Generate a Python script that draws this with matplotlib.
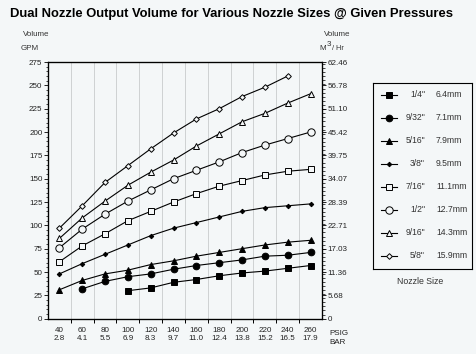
import numpy as np
import matplotlib
matplotlib.use("Agg")
import matplotlib.pyplot as plt
from matplotlib.ticker import MultipleLocator, FixedLocator

plt.rcParams['font.family'] = ['Liberation Sans', 'DejaVu Sans']

nan = np.nan
psig = [40, 60, 80, 100, 120, 140, 160, 180, 200, 220, 240, 260]
bar = ['2.8', '4.1', '5.5', '6.9', '8.3', '9.7', '11.0', '12.4', '13.8', '15.2', '16.5', '17.9']

# GPM per nozzle size
q_1_4 = [nan, nan, nan, 30, 33, 39, 42, 46, 49, 51, 54, 57]
q_9_32 = [nan, 32, 40, 45, 48, 53, 57, 60, 63, 67, 68, 71]
q_5_16 = [31, 41, 48, 52, 58, 62, 67, 71, 75, 79, 82, 84]
q_3_8 = [48, 59, 69, 79, 89, 97, 103, 109, 115, 119, 121, 123]
q_7_16 = [61, 78, 91, 105, 115, 125, 134, 142, 148, 154, 158, 160]
q_1_2 = [76, 96, 112, 126, 138, 150, 159, 168, 178, 186, 193, 200]
q_9_16 = [86, 108, 126, 143, 157, 170, 185, 198, 211, 220, 231, 241]
q_5_8 = [97, 121, 146, 164, 182, 199, 214, 225, 238, 248, 260, nan]

sizes_in = ['1/4"', '9/32"', '5/16"', '3/8"', '7/16"', '1/2"', '9/16"', '5/8"']
sizes_mm = ['6.4mm', '7.1mm', '7.9mm', '9.5mm', '11.1mm', '12.7mm', '14.3mm', '15.9mm']
gpm_ticks = [0, 25, 50, 75, 100, 125, 150, 175, 200, 225, 250, 275]
m3_labels = ['0', '5.68', '11.36', '17.03', '22.71', '28.39', '34.07', '39.75',
             '45.42', '51.10', '56.78', '62.46']

series = [q_1_4, q_9_32, q_5_16, q_3_8, q_7_16, q_1_2, q_9_16, q_5_8]
bg = '#f4f7f8'
styles = [('s', 4.3, 'k'), ('o', 4.8, 'k'), ('^', 4.2, 'k'), ('D', 2.3, 'k'),
          ('s', 4.5, bg), ('o', 5.3, bg), ('^', 5.0, bg), ('D', 2.9, bg)]

fig = plt.figure(figsize=(4.76, 3.54), dpi=100, facecolor=bg)
ax = fig.add_axes([0.1008, 0.0997, 0.5756, 0.7251], facecolor=bg)

for vals, (m, ms, fc) in zip(series, styles):
    ax.plot(psig, vals, color='k', lw=0.8, marker=m, ms=ms, mfc=fc, mec='k', mew=0.7)

ax.set_xlim(30, 270)
ax.set_ylim(0, 275)
ax.set_xticks(psig)
ax.set_xticklabels([f'{p}\n{b}' for p, b in zip(psig, bar)], linespacing=1.25)
ax.xaxis.set_minor_locator(FixedLocator(np.arange(50, 260, 20)))
ax.grid(which='minor', axis='x', color='#c8cbcc', lw=0.6)
ax.tick_params(axis='x', which='major', length=0, pad=6, labelsize=5.8, colors='#222222')
ax.tick_params(axis='x', which='minor', length=3, width=0.7, direction='out')
ax.set_yticks(gpm_ticks)
ax.yaxis.set_minor_locator(MultipleLocator(5))
ax.tick_params(axis='y', which='major', length=3, width=0.7, pad=1, labelsize=5.8, colors='#222222')
ax.tick_params(axis='y', which='minor', length=1.8, width=0.5)
for s in ax.spines.values():
    s.set_linewidth(0.9)

ax2 = ax.twinx()
ax2.set_ylim(0, 275 * 0.22712)
ax2.set_yticks([float(v) for v in m3_labels])
ax2.set_yticklabels(m3_labels)
ax2.yaxis.set_minor_locator(MultipleLocator(1))
ax2.tick_params(axis='y', which='major', length=3, width=0.7, pad=1, labelsize=5.8, colors='#222222')
ax2.tick_params(axis='y', which='minor', length=1.8, width=0.5)

fig.text(232 / 476, 1 - 14 / 354, 'Dual Nozzle Output Volume for Various Nozzle Sizes @ Given Pressures',
         ha='center', va='center', fontsize=9.4, fontweight='bold')
fig.text(36 / 476, 1 - 35 / 354, 'Volume', ha='center', va='center', fontsize=5.8, color='#333333')
fig.text(30 / 476, 1 - 48.5 / 354, 'GPM', ha='center', va='center', fontsize=5.8, color='#333333')
fig.text(337 / 476, 1 - 35 / 354, 'Volume', ha='center', va='center', fontsize=5.8, color='#333333')
fig.text(319 / 476, 1 - 48 / 354, 'M', ha='left', va='center', fontsize=5.8, color='#333333')
fig.text(326.5 / 476, 1 - 44.5 / 354, '3', ha='left', va='center', fontsize=5.8, color='#333333')
fig.text(332 / 476, 1 - 48 / 354, '/ Hr', ha='left', va='center', fontsize=5.3, color='#333333')
fig.text(329 / 476, 1 - 338 / 354, 'PSIG\nBAR', ha='left', va='center', fontsize=5.8,
         color='#222222', linespacing=1.25)

# legend box drawn in pixel-like coordinates
lax = fig.add_axes([373 / 476, 1 - 269 / 354, 99 / 476, 186 / 354], facecolor=bg)
lax.set_xlim(0, 99)
lax.set_ylim(186, 0)
lax.set_xticks([])
lax.set_yticks([])
for s in lax.spines.values():
    s.set_linewidth(0.8)
for i, (m, ms, fc) in enumerate(styles):
    y = 11.5 + i * 23.0
    lax.plot([8, 24], [y, y], color='k', lw=0.8)
    lax.plot([16], [y], color='k', marker=m, ms=ms, mfc=fc, mec='k', mew=0.7)
    lax.text(52, y, sizes_in[i], ha='right', va='center', fontsize=6.2, color='#333333')
    lax.text(63, y, sizes_mm[i], ha='left', va='center', fontsize=6.2, color='#333333')
fig.text(420 / 476, 1 - 281 / 354, 'Nozzle Size', ha='center', va='center', fontsize=6.3, color='#333333')

plt.savefig('out.png', dpi=100, facecolor=bg)
